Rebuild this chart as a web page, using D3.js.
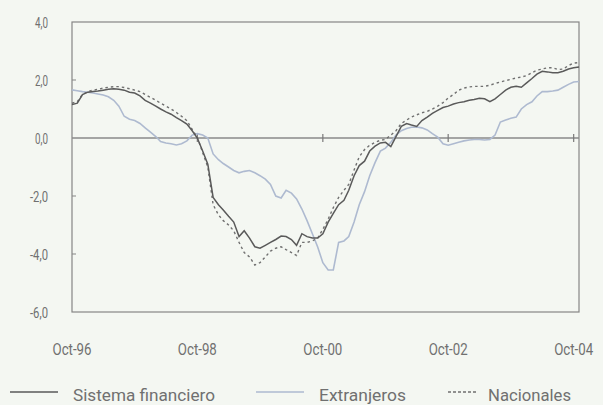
<!DOCTYPE html>
<html><head><meta charset="utf-8">
<script src="https://cdn.jsdelivr.net/npm/d3@7"></script>
<style>
html,body{margin:0;padding:0;background:#f4f7f2;}
svg{display:block;}
text{font-family:"Roboto","Liberation Sans",sans-serif;fill:#707070;}
</style></head>
<body>
<svg id="c" width="603" height="405"></svg>
<script>
// Monthly series, Oct-96 (index 0) to Nov-04
const startMonth = new Date(1996, 9, 1);
const sistema = [1.15,1.2,1.5,1.58,1.6,1.62,1.65,1.68,1.7,1.68,1.65,1.58,1.55,1.45,1.3,1.2,1.1,1.0,0.9,0.82,0.7,0.6,0.48,0.25,0.0,-0.45,-0.9,-2.05,-2.3,-2.48,-2.7,-2.9,-3.4,-3.2,-3.45,-3.75,-3.8,-3.7,-3.6,-3.5,-3.38,-3.4,-3.5,-3.7,-3.3,-3.4,-3.45,-3.45,-3.3,-2.9,-2.6,-2.3,-2.15,-1.8,-1.3,-0.95,-0.8,-0.45,-0.28,-0.17,-0.15,-0.3,0.05,0.4,0.5,0.45,0.4,0.6,0.72,0.85,0.95,1.05,1.1,1.17,1.22,1.25,1.3,1.33,1.37,1.35,1.25,1.35,1.5,1.65,1.75,1.78,1.75,1.9,2.05,2.2,2.3,2.28,2.25,2.25,2.3,2.38,2.42,2.45];
const extranjeros = [1.66,1.63,1.6,1.58,1.55,1.52,1.48,1.42,1.3,1.1,0.75,0.65,0.6,0.5,0.35,0.2,0.05,-0.12,-0.17,-0.2,-0.24,-0.2,-0.1,0.1,0.15,0.1,0.0,-0.55,-0.75,-0.88,-1.0,-1.12,-1.2,-1.15,-1.12,-1.2,-1.3,-1.42,-1.6,-2.0,-2.07,-1.8,-1.9,-2.1,-2.45,-2.85,-3.3,-3.76,-4.3,-4.55,-4.55,-3.6,-3.55,-3.4,-2.9,-2.3,-1.85,-1.3,-0.85,-0.45,-0.35,-0.15,0.1,0.25,0.33,0.37,0.38,0.35,0.28,0.15,0.03,-0.2,-0.25,-0.2,-0.15,-0.1,-0.07,-0.05,-0.05,-0.07,-0.05,0.1,0.55,0.62,0.68,0.72,1.0,1.15,1.25,1.45,1.6,1.6,1.62,1.65,1.75,1.85,1.93,1.95];
const nacionales = [1.2,1.25,1.5,1.6,1.65,1.68,1.72,1.75,1.77,1.77,1.74,1.7,1.65,1.6,1.5,1.4,1.3,1.2,1.1,1.0,0.88,0.75,0.6,0.3,0.02,-0.5,-1.0,-2.3,-2.65,-2.85,-3.0,-3.2,-3.6,-3.95,-4.1,-4.38,-4.3,-4.1,-3.9,-3.8,-3.75,-3.85,-3.95,-4.05,-3.6,-3.6,-3.55,-3.45,-3.15,-2.8,-2.4,-2.05,-1.8,-1.6,-1.1,-0.65,-0.4,-0.25,-0.15,-0.08,-0.05,0.1,0.25,0.5,0.62,0.72,0.8,0.87,0.92,1.0,1.1,1.22,1.38,1.5,1.65,1.72,1.76,1.78,1.78,1.78,1.82,1.88,1.93,1.98,2.02,2.07,2.1,2.15,2.25,2.34,2.38,2.42,2.42,2.36,2.38,2.5,2.58,2.6];
const yTicks = [4, 2, 0, -2, -4, -6];
const xTickLabels = ["Oct-96","Oct-98","Oct-00","Oct-02","Oct-04"];
const xTickYears = [1996, 1998, 2000, 2002, 2004];
const seriesNames = ["Sistema financiero","Extranjeros","Nacionales"];

const svg = d3.select("#c");
const L = 72, R = 579, T = 22, B = 312;
const monthDate = i => new Date(1996, 9 + i, 1);
const x = d3.scaleTime().domain([startMonth, monthDate(97)]).range([L, R]);
const y = d3.scaleLinear().domain([-6, 4]).range([B, T]);
const fmt = v => d3.format(".1f")(v).replace(".", ",").replace("\u2212","-");

// frame
svg.append("rect").attr("x", L).attr("y", T).attr("width", R - L).attr("height", B - T)
  .attr("fill","none").attr("stroke","#858585").attr("stroke-width",1.2);

// y axis labels & ticks
const gy = svg.append("g");
yTicks.forEach(v => {
  const s = fmt(v);
  gy.append("text").attr("x", 48).attr("y", y(v) + 5.5).attr("text-anchor","end")
    .style("font-size","15.5px")
    .attr("textLength", s.length === 3 ? 13 : 18).attr("lengthAdjust","spacingAndGlyphs")
    .text(s);
  if (v > -6 && v < 4 && v !== 0) {
    gy.append("line").attr("x1", L).attr("x2", L + 4).attr("y1", y(v)).attr("y2", y(v))
      .attr("stroke","#858585").attr("stroke-width",1);
  }
});

// zero line
svg.append("line").attr("x1", L).attr("x2", R).attr("y1", y(0)).attr("y2", y(0))
  .attr("stroke","#8a8a8a").attr("stroke-width",1.3);

// x ticks on zero line and labels
xTickYears.forEach((yr, i) => {
  const d = new Date(yr, 9, 1);
  if (i > 0) {
    svg.append("line").attr("x1", x(d)).attr("x2", x(d)).attr("y1", y(0) - 4).attr("y2", y(0) + 4)
      .attr("stroke","#7a7a7a").attr("stroke-width",1.2);
  }
  svg.append("text").attr("x", x(d)).attr("y", 355).attr("text-anchor","middle")
    .style("font-size","16px").attr("textLength", 39).attr("lengthAdjust","spacingAndGlyphs")
    .text(xTickLabels[i]);
});

const line = d3.line().x((d, i) => x(monthDate(i))).y(d => y(d));

svg.append("path").datum(extranjeros).attr("d", line).attr("fill","none")
  .attr("stroke","#aebad0").attr("stroke-width",1.6);
svg.append("path").datum(nacionales).attr("d", line).attr("fill","none")
  .attr("stroke","#707070").attr("stroke-width",1.4).attr("stroke-dasharray","2.5,3");
svg.append("path").datum(sistema).attr("d", line).attr("fill","none")
  .attr("stroke","#5a5a5a").attr("stroke-width",1.5);

// legend
const leg = [
  {name: seriesNames[0], x1: 10, x2: 58, tx: 73, w: 142, stroke: "#5a5a5a", dash: null},
  {name: seriesNames[1], x1: 256, x2: 304, tx: 319, w: 87, stroke: "#aebad0", dash: null},
  {name: seriesNames[2], x1: 448, x2: 478, tx: 488, w: 83, stroke: "#707070", dash: "3,2"}
];
leg.forEach(l => {
  svg.append("line").attr("x1", l.x1).attr("x2", l.x2).attr("y1", 392).attr("y2", 392)
    .attr("stroke", l.stroke).attr("stroke-width", 1.4).attr("stroke-dasharray", l.dash);
  svg.append("text").attr("x", l.tx).attr("y", 401).style("font-size","16.5px")
    .attr("textLength", l.w).attr("lengthAdjust","spacingAndGlyphs").text(l.name);
});
</script>
</body></html>
